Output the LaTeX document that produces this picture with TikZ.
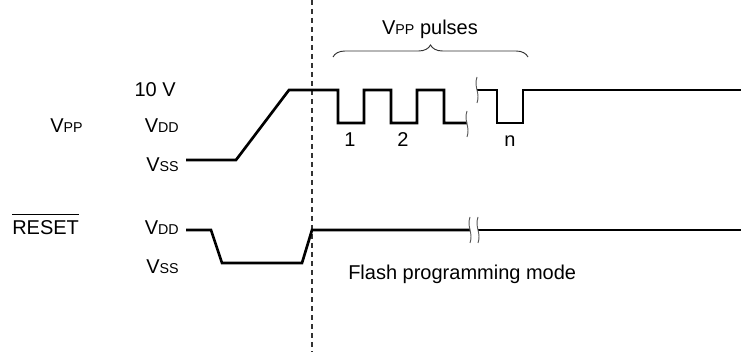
\documentclass[tikz,border=0pt]{standalone}
\usepackage{fontspec}
\setmainfont{Liberation Sans}
\usetikzlibrary{decorations.pathreplacing}
\newcommand{\sbx}[1]{{\fontsize{10.7}{12}\selectfont #1}}
\tikzset{
  sig/.style={line width=2pt, line join=miter},
  lbl/.style={font=\fontsize{15}{17}\selectfont, inner sep=0pt},
  brk/.style={draw=black!65, line width=0.7pt},
  marker/.style={draw=black!80, line width=0.8pt, dash pattern=on 3.75pt off 3pt},
}
\newcommand{\squig}[3]{\draw[brk] (#1,#2) .. controls (#1-3.5,#2+0.4*#3) and (#1+3.5,#2+0.6*#3) .. (#1,#2+#3);}
\begin{document}
\begin{tikzpicture}[x=0.75pt,y=-0.75pt]
\useasboundingbox (0,0) rectangle (741,352);
% dashed marker
\coordinate (mtop) at (312,0);
\coordinate (mbot) at (312,352);
\draw[marker] (mtop) -- (mbot);
% labels
\node[lbl, anchor=base west] (vpp) at (50,133) {V\sbx{PP}};
\node[lbl, anchor=base east] (ten) at (176,97) {10 V};
\node[lbl, anchor=base east] (vdd1) at (179,133) {V\sbx{DD}};
\node[lbl, anchor=base east] (vss1) at (179,172) {V\sbx{SS}};
\node[lbl, anchor=base west] (rst) at (12,235) {RESET};
\draw[line width=0.8pt] ([yshift=5pt]rst.north west) -- ([yshift=5pt]rst.north east);
\node[lbl, anchor=base east] (vdd2) at (179,235) {V\sbx{DD}};
\node[lbl, anchor=base east] (vss2) at (179,273) {V\sbx{SS}};
\node[lbl, anchor=base] (p1) at (350,147) {1};
\node[lbl, anchor=base] (p2) at (403,147) {2};
\node[lbl, anchor=base] (pn) at (510,147) {n};
\node[lbl, anchor=base west] (fpm) at (348,279) {Flash programming mode};
\node[lbl, anchor=base] (pul) at (430,35) {V\sbx{PP} pulses};
% brace
\coordinate (bl) at (333,57);
\coordinate (br) at (528,57);
\draw[draw=black!80, line width=0.7pt, decorate, decoration={brace, amplitude=9pt}] (bl) -- (br);
% VPP signal
\draw[sig] (186,160) -- (236,160) -- (289,90) -- (338,90) -- (338,123) -- (364,123) -- (364,90)
  -- (391,90) -- (391,123) -- (417,123) -- (417,90) -- (444,90) -- (444,123) -- (467,123);
\draw[sig] (477,90) -- (497,90) -- (497,123) -- (523,123) -- (523,90) -- (741,90);
\squig{467}{111}{26}
\squig{477}{77}{26}
% RESET signal
\draw[sig] (186,230) -- (211,230) -- (222,263) -- (302,263) -- (312,230) -- (470,230);
\draw[sig] (478,230) -- (741,230);
\squig{470}{217}{26}
\squig{478}{217}{26}
\end{tikzpicture}
\end{document}
